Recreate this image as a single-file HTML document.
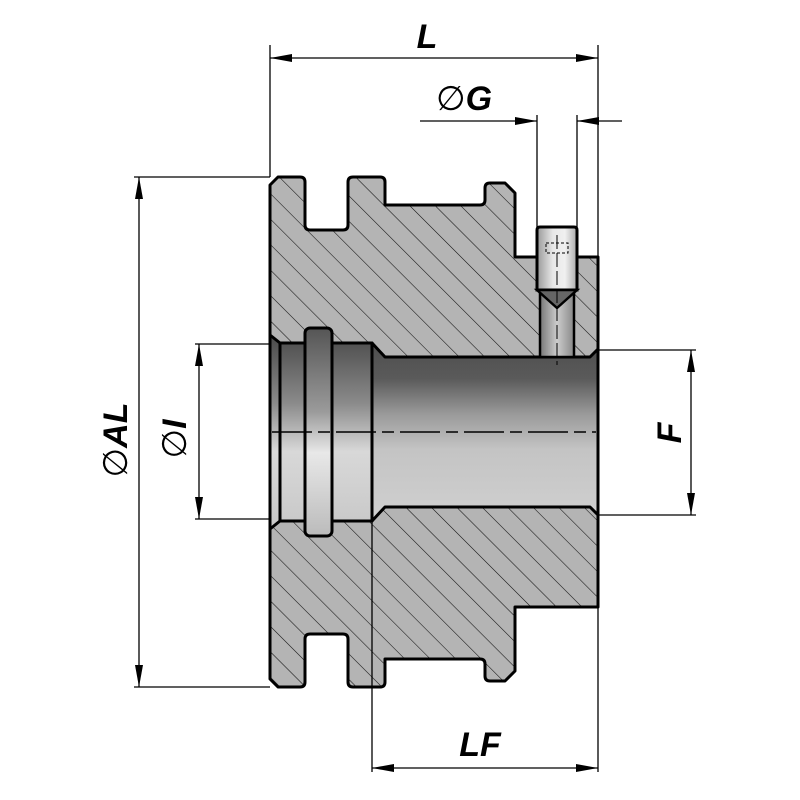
<!DOCTYPE html>
<html><head><style>html,body{margin:0;padding:0;background:#fff}svg{display:block}</style></head><body>
<svg width="800" height="800" viewBox="0 0 800 800" xmlns="http://www.w3.org/2000/svg">
<defs>
<pattern id="hatch" patternUnits="userSpaceOnUse" width="18" height="18" patternTransform="rotate(-45)">
<rect width="18" height="18" fill="#b4b4b4"/>
<line x1="0" y1="0" x2="0" y2="18" stroke="#111" stroke-width="1.1"/>
</pattern>
<linearGradient id="bore" x1="0" y1="0" x2="0" y2="1">
<stop offset="0" stop-color="#4e4e4e"/><stop offset="0.2" stop-color="#5a5a5a"/><stop offset="0.4" stop-color="#9a9a9a"/><stop offset="0.6" stop-color="#c4c4c4"/><stop offset="1" stop-color="#d0d0d0"/>
</linearGradient>
<linearGradient id="cb" x1="0" y1="0" x2="0" y2="1">
<stop offset="0" stop-color="#4a4a4a"/><stop offset="0.35" stop-color="#8a8a8a"/><stop offset="0.6" stop-color="#d8d8d8"/><stop offset="1" stop-color="#c8c8c8"/>
</linearGradient>
<linearGradient id="ring" x1="0" y1="0" x2="0" y2="1">
<stop offset="0" stop-color="#555"/><stop offset="0.4" stop-color="#9a9a9a"/><stop offset="0.6" stop-color="#e8e8e8"/><stop offset="1" stop-color="#bbb"/>
</linearGradient>
<linearGradient id="scr" x1="0" y1="0" x2="1" y2="0">
<stop offset="0" stop-color="#999"/><stop offset="0.4" stop-color="#e8e8e8"/><stop offset="0.7" stop-color="#f0f0f0"/><stop offset="1" stop-color="#aaa"/>
</linearGradient>
<linearGradient id="pin" x1="0" y1="0" x2="1" y2="0">
<stop offset="0" stop-color="#777"/><stop offset="0.5" stop-color="#ccc"/><stop offset="1" stop-color="#888"/>
</linearGradient>
</defs>
<path d="M270,185 L278,177 L300,177 Q305,177 305,182 L305,225 Q305,230 310,230 L343,230 Q348,230 348,225 L348,182 Q348,177 353,177 L380,177 Q385,177 385,182 L385,205 L480,205 Q485,205 485,200 L485,188 Q485,183 490,183 L505,183 L515,193 L515,257 L598,257 L598,607 L515,607 L515,671 L505,681 L490,681 Q485,681 485,676 L485,664 Q485,659 480,659 L385,659 L385,682 Q385,687 380,687 L353,687 Q348,687 348,682 L348,639 Q348,634 343,634 L310,634 Q305,634 305,639 L305,682 Q305,687 300,687 L278,687 L270,679 Z" fill="url(#hatch)" stroke="#000" stroke-width="3" stroke-linejoin="round"/>
<path d="M372,343 L385,357 L590,357 L598,349 L598,515 L590,507 L385,507 L372,521 Z" fill="url(#bore)" stroke="#000" stroke-width="3" stroke-linejoin="round"/>
<path d="M270,335 L280,343 L372,343 L372,521 L280,521 L270,529 Z" fill="url(#cb)" stroke="#000" stroke-width="3" stroke-linejoin="round"/>
<line x1="280" y1="343" x2="280" y2="521" stroke="#000" stroke-width="3"/>
<rect x="305" y="328" width="27" height="208" rx="5" fill="url(#ring)" stroke="#000" stroke-width="3"/>
<rect x="540" y="290" width="34" height="67" fill="url(#pin)" stroke="#000" stroke-width="2.5"/>
<path d="M537,230 Q537,227 540,227 L574,227 Q577,227 577,230 L577,290 L537,290 Z" fill="url(#scr)" stroke="#000" stroke-width="3"/>
<path d="M537,290 L577,290 L557,308 Z" fill="#666" stroke="#000" stroke-width="2.5"/>
<rect x="546" y="243" width="22" height="10" fill="none" stroke="#000" stroke-width="1" stroke-dasharray="3,2"/>
<line x1="557" y1="235" x2="557" y2="365" stroke="#000" stroke-width="1" stroke-dasharray="14,4"/>
<line x1="272" y1="432" x2="596" y2="432" stroke="#000" stroke-width="1.5" stroke-dasharray="40,6,12,6"/>
<g stroke="#000" stroke-width="1.3" fill="none">
<line x1="270" y1="45" x2="270" y2="177"/><line x1="598" y1="45" x2="598" y2="257"/>
<line x1="270" y1="58" x2="598" y2="58"/>
<line x1="537" y1="115" x2="537" y2="227"/><line x1="577" y1="115" x2="577" y2="227"/>
<line x1="420" y1="121" x2="537" y2="121"/><line x1="577" y1="121" x2="622" y2="121"/>
<line x1="134" y1="177" x2="270" y2="177"/><line x1="134" y1="687" x2="270" y2="687"/>
<line x1="139" y1="177" x2="139" y2="687"/>
<line x1="195" y1="344" x2="270" y2="344"/><line x1="195" y1="519" x2="270" y2="519"/>
<line x1="199" y1="344" x2="199" y2="519"/>
<line x1="598" y1="350" x2="696" y2="350"/><line x1="598" y1="515" x2="696" y2="515"/>
<line x1="691" y1="350" x2="691" y2="515"/>
<line x1="372" y1="521" x2="372" y2="772"/><line x1="598" y1="607" x2="598" y2="772"/>
<line x1="372" y1="768" x2="598" y2="768"/>
</g>
<g fill="#000">
<path d="M270,58 L292,54 L292,62 Z"/><path d="M598,58 L576,54 L576,62 Z"/>
<path d="M537,121 L515,117 L515,125 Z"/><path d="M577,121 L599,117 L599,125 Z"/>
<path d="M139,177 L135,199 L143,199 Z"/><path d="M139,687 L135,665 L143,665 Z"/>
<path d="M199,344 L195,366 L203,366 Z"/><path d="M199,519 L195,497 L203,497 Z"/>
<path d="M691,350 L687,372 L695,372 Z"/><path d="M691,515 L687,493 L695,493 Z"/>
<path d="M372,768 L394,764 L394,772 Z"/><path d="M598,768 L576,764 L576,772 Z"/>
</g>
<g font-family="Liberation Sans, sans-serif" font-weight="bold" font-style="italic" font-size="34" fill="#000">
<text x="427" y="48" text-anchor="middle">L</text>
<text x="464" y="110" text-anchor="middle"><tspan font-family="DejaVu Sans" font-weight="normal" font-style="normal" font-size="34">∅</tspan>G</text>
<text x="480" y="756" text-anchor="middle">LF</text>
<text transform="translate(681,433) rotate(-90)" text-anchor="middle">F</text>
<text transform="translate(127,440) rotate(-90)" text-anchor="middle"><tspan font-family="DejaVu Sans" font-weight="normal" font-style="normal">∅</tspan>AL</text>
<text transform="translate(186,439) rotate(-90)" text-anchor="middle"><tspan font-family="DejaVu Sans" font-weight="normal" font-style="normal">∅</tspan>I</text>
</g>
</svg>
</body></html>
